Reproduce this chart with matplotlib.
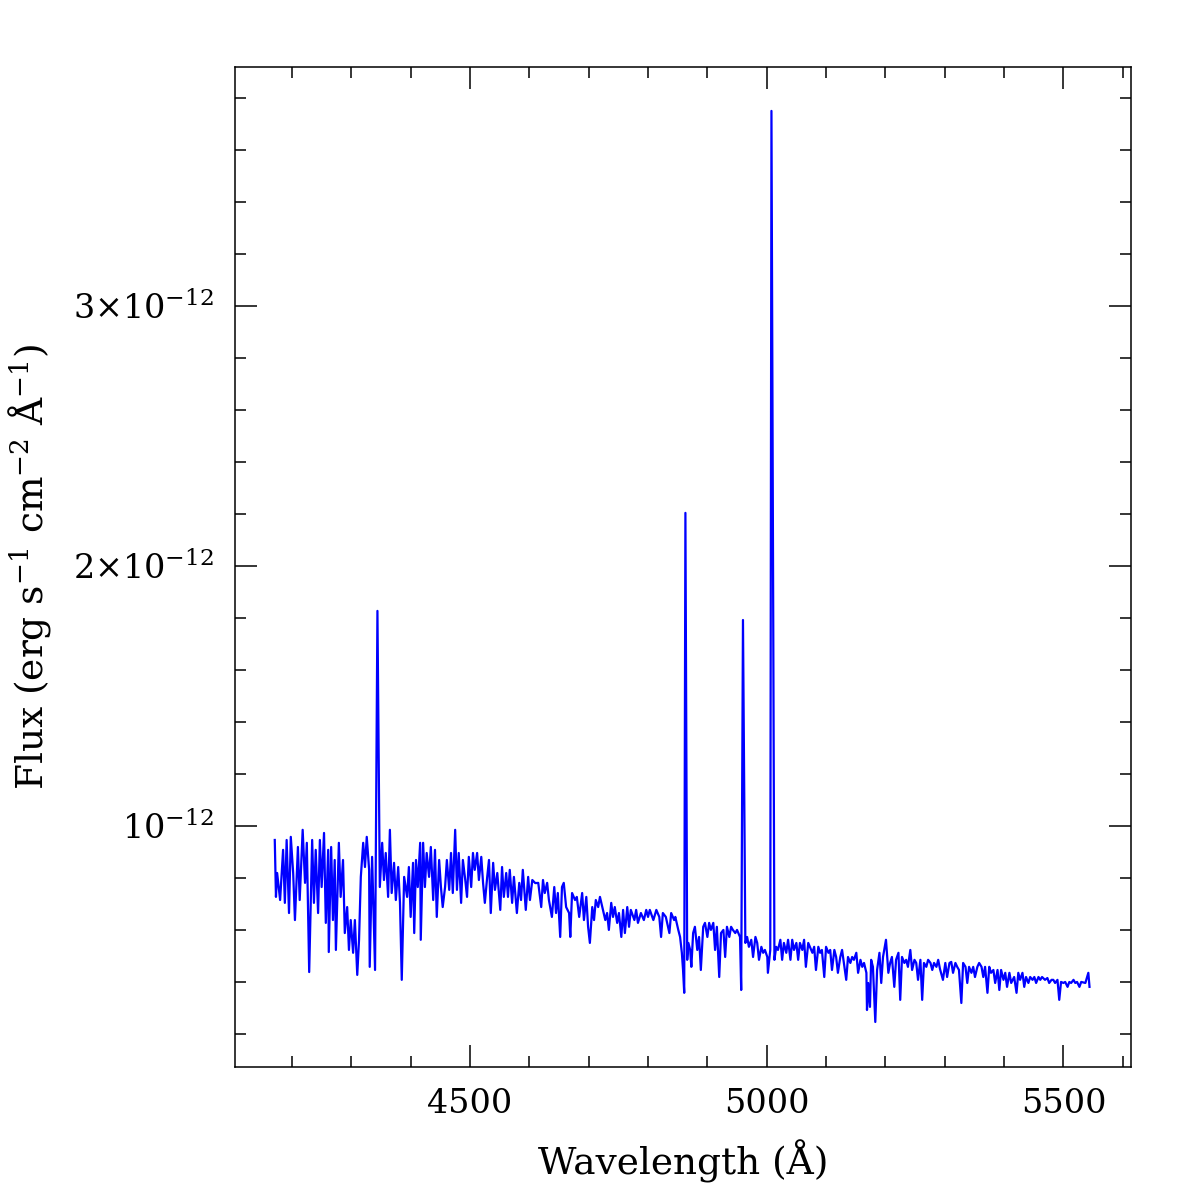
import numpy as np
import matplotlib.pyplot as plt
from matplotlib.ticker import FixedLocator, MultipleLocator

# Espectro: comprimento de onda (Å) e fluxo (unidades de 1e-12 erg/s/cm2/Å)
wave = [
    4171, 4173, 4175, 4180, 4185, 4188, 4191, 4195, 4198, 4202,
    4205, 4210, 4213, 4218, 4222, 4225, 4229, 4234, 4237, 4240,
    4244, 4247, 4250, 4254, 4257, 4261, 4262, 4266, 4269, 4272,
    4274, 4279, 4282, 4286, 4289, 4293, 4296, 4299, 4303, 4306,
    4310, 4313, 4316, 4320, 4323, 4326, 4330, 4331, 4335, 4340,
    4344, 4348, 4352, 4355, 4358, 4362, 4365, 4368, 4372, 4375,
    4379, 4382, 4385, 4389, 4394, 4397, 4400, 4404, 4406, 4409,
    4412, 4416, 4417, 4421, 4424, 4427, 4431, 4434, 4438, 4441,
    4444, 4448, 4451, 4454, 4458, 4461, 4465, 4468, 4471, 4475,
    4478, 4481, 4485, 4488, 4492, 4495, 4498, 4502, 4505, 4508,
    4512, 4515, 4519, 4522, 4525, 4529, 4532, 4535, 4539, 4542,
    4546, 4551, 4554, 4557, 4561, 4564, 4567, 4571, 4574, 4579,
    4583, 4586, 4589, 4594, 4598, 4601, 4605, 4610, 4615, 4620,
    4623, 4626, 4630, 4633, 4638, 4642, 4645, 4648, 4652, 4655,
    4658, 4662, 4667, 4669, 4672, 4677, 4680, 4684, 4689, 4692,
    4696, 4699, 4702, 4706, 4709, 4712, 4716, 4719, 4723, 4728,
    4731, 4734, 4738, 4741, 4744, 4748, 4751, 4755, 4758, 4761,
    4765, 4768, 4771, 4777, 4780, 4783, 4788, 4793, 4797, 4800,
    4803, 4809, 4814, 4819, 4822, 4825, 4830, 4836, 4839, 4844,
    4846, 4851, 4854, 4857, 4859, 4861, 4863, 4866, 4868, 4871,
    4873, 4876, 4879, 4883, 4886, 4889, 4893, 4896, 4900, 4903,
    4906, 4910, 4913, 4916, 4920, 4923, 4927, 4930, 4933, 4937,
    4940, 4943, 4947, 4950, 4955, 4957, 4960, 4964, 4967, 4970,
    4974, 4977, 4981, 4984, 4987, 4991, 4994, 4997, 5001, 5002,
    5006, 5008, 5013, 5016, 5019, 5023, 5026, 5029, 5033, 5036,
    5040, 5043, 5046, 5050, 5053, 5056, 5060, 5063, 5066, 5070,
    5077, 5080, 5083, 5087, 5090, 5093, 5097, 5100, 5104, 5107,
    5110, 5114, 5117, 5120, 5124, 5127, 5131, 5134, 5137, 5141,
    5144, 5147, 5151, 5154, 5158, 5161, 5164, 5168, 5169, 5171,
    5174, 5176, 5179, 5183, 5186, 5190, 5193, 5196, 5200, 5201,
    5205, 5208, 5211, 5215, 5218, 5222, 5225, 5228, 5232, 5235,
    5238, 5242, 5245, 5249, 5252, 5255, 5259, 5262, 5265, 5269,
    5272, 5276, 5279, 5282, 5286, 5289, 5292, 5297, 5301, 5304,
    5308, 5311, 5314, 5318, 5321, 5324, 5328, 5331, 5335, 5338,
    5341, 5345, 5348, 5351, 5355, 5358, 5362, 5365, 5368, 5372,
    5375, 5378, 5382, 5385, 5389, 5392, 5395, 5399, 5402, 5405,
    5409, 5412, 5417, 5421, 5424, 5427, 5431, 5434, 5437, 5441,
    5444, 5448, 5451, 5454, 5458, 5461, 5464, 5469, 5473, 5476,
    5480, 5483, 5486, 5490, 5493, 5496, 5500, 5503, 5507, 5510,
    5513, 5517, 5520, 5523, 5527, 5530, 5537, 5540, 5542, 5544,
]

flux = [
    0.946, 0.727, 0.819, 0.715, 0.908, 0.704, 0.946, 0.665, 0.958, 0.819,
    0.638, 0.919, 0.715, 0.985, 0.781, 0.935, 0.438, 0.946, 0.704, 0.908,
    0.665, 0.946, 0.765, 0.973, 0.627, 0.908, 0.515, 0.919, 0.638, 0.869,
    0.523, 0.935, 0.727, 0.869, 0.588, 0.688, 0.523, 0.638, 0.512, 0.638,
    0.427, 0.562, 0.804, 0.935, 0.842, 0.958, 0.831, 0.458, 0.881, 0.446,
    1.827, 0.765, 0.935, 0.792, 0.896, 0.727, 0.985, 0.742, 0.858, 0.715,
    0.842, 0.704, 0.408, 0.804, 0.727, 0.842, 0.650, 0.858, 0.588, 0.869,
    0.765, 0.935, 0.562, 0.935, 0.765, 0.896, 0.804, 0.919, 0.715, 0.908,
    0.650, 0.869, 0.765, 0.688, 0.765, 0.869, 0.754, 0.896, 0.742, 0.985,
    0.754, 0.896, 0.704, 0.869, 0.792, 0.727, 0.881, 0.765, 0.896, 0.831,
    0.896, 0.792, 0.881, 0.781, 0.704, 0.804, 0.869, 0.665, 0.858, 0.754,
    0.819, 0.677, 0.842, 0.727, 0.819, 0.727, 0.831, 0.704, 0.804, 0.665,
    0.781, 0.715, 0.831, 0.677, 0.804, 0.715, 0.792, 0.780, 0.781, 0.688,
    0.792, 0.742, 0.781, 0.715, 0.650, 0.765, 0.665, 0.742, 0.573, 0.765,
    0.781, 0.688, 0.665, 0.573, 0.742, 0.715, 0.727, 0.650, 0.742, 0.638,
    0.727, 0.612, 0.550, 0.688, 0.638, 0.715, 0.688, 0.727, 0.688, 0.638,
    0.665, 0.600, 0.704, 0.650, 0.688, 0.627, 0.665, 0.573, 0.677, 0.588,
    0.688, 0.612, 0.677, 0.638, 0.677, 0.627, 0.665, 0.638, 0.677, 0.650,
    0.677, 0.638, 0.677, 0.650, 0.573, 0.665, 0.650, 0.588, 0.665, 0.638,
    0.650, 0.600, 0.573, 0.512, 0.446, 0.358, 2.204, 0.485, 0.550, 0.523,
    0.458, 0.588, 0.612, 0.523, 0.573, 0.446, 0.612, 0.627, 0.573, 0.627,
    0.600, 0.627, 0.523, 0.612, 0.419, 0.588, 0.600, 0.496, 0.612, 0.573,
    0.612, 0.600, 0.588, 0.600, 0.573, 0.369, 1.792, 0.550, 0.573, 0.535,
    0.562, 0.496, 0.573, 0.550, 0.485, 0.535, 0.512, 0.523, 0.496, 0.435,
    0.523, 3.750, 0.485, 0.535, 0.523, 0.562, 0.485, 0.550, 0.512, 0.562,
    0.485, 0.562, 0.523, 0.550, 0.485, 0.550, 0.523, 0.562, 0.458, 0.550,
    0.512, 0.535, 0.446, 0.535, 0.512, 0.523, 0.419, 0.535, 0.512, 0.523,
    0.446, 0.523, 0.496, 0.435, 0.496, 0.523, 0.458, 0.408, 0.496, 0.473,
    0.496, 0.485, 0.512, 0.435, 0.485, 0.458, 0.473, 0.435, 0.292, 0.396,
    0.304, 0.485, 0.458, 0.246, 0.446, 0.512, 0.396, 0.496, 0.550, 0.562,
    0.435, 0.473, 0.496, 0.381, 0.485, 0.512, 0.331, 0.496, 0.473, 0.485,
    0.458, 0.523, 0.446, 0.485, 0.473, 0.408, 0.485, 0.331, 0.473, 0.458,
    0.485, 0.473, 0.446, 0.473, 0.458, 0.485, 0.450, 0.408, 0.473, 0.419,
    0.473, 0.477, 0.435, 0.473, 0.458, 0.446, 0.319, 0.473, 0.458, 0.396,
    0.458, 0.435, 0.458, 0.419, 0.458, 0.473, 0.458, 0.419, 0.458, 0.358,
    0.458, 0.435, 0.446, 0.396, 0.446, 0.369, 0.446, 0.408, 0.435, 0.381,
    0.435, 0.396, 0.419, 0.358, 0.435, 0.408, 0.435, 0.381, 0.419, 0.396,
    0.419, 0.408, 0.419, 0.396, 0.419, 0.408, 0.419, 0.408, 0.415, 0.396,
    0.408, 0.408, 0.396, 0.408, 0.331, 0.400, 0.396, 0.400, 0.381, 0.400,
    0.396, 0.408, 0.396, 0.400, 0.381, 0.400, 0.396, 0.419, 0.435, 0.381,
]

major_y = [1, 2, 3]
major_y_labels = [r"$10^{-12}$", r"$2{\times}10^{-12}$", r"$3{\times}10^{-12}$"]
major_x = [4500, 5000, 5500]

plt.rcParams["font.family"] = "DejaVu Serif"
plt.rcParams["mathtext.fontset"] = "dejavuserif"

fig = plt.figure(figsize=(11.96, 11.96), dpi=100)
ax = fig.add_axes([0.1965, 0.1079, 0.7492, 0.8361])

ax.plot(wave, flux, color="#0000ff", linewidth=1.6)

ax.set_xlim(4104, 5614)
ax.set_ylim(0.073, 3.919)

ax.xaxis.set_major_locator(FixedLocator(major_x))
ax.xaxis.set_minor_locator(MultipleLocator(100))
ax.yaxis.set_major_locator(FixedLocator(major_y))
ax.yaxis.set_minor_locator(MultipleLocator(0.2))
ax.set_yticklabels(major_y_labels)

ax.tick_params(which="both", direction="in", top=True, right=True,
               width=1.1, labelsize=24, pad=15)
ax.tick_params(which="major", length=16)
ax.tick_params(which="minor", length=8)
for s in ax.spines.values():
    s.set_linewidth(1.1)

ax.set_xlabel("Wavelength (Å)", fontsize=27, labelpad=14)
ax.set_ylabel(r"Flux (erg s$^{-1}$ cm$^{-2}$ Å$^{-1}$)", fontsize=27)
ax.yaxis.set_label_coords(-0.203, 0.5)

fig.savefig("out.png", dpi=100)
